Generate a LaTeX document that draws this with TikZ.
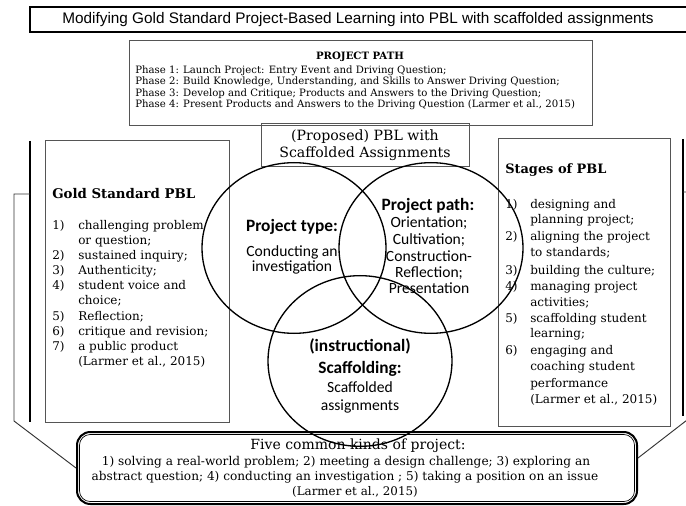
\documentclass[tikz,border=0pt]{standalone}
\usepackage{fontspec}
\setmainfont{DejaVu Serif}
\newfontfamily\headsans{Liberation Sans}
\newfontfamily\venn{Carlito}
\usetikzlibrary{shapes.geometric,fit,calc}
\definecolor{edge}{HTML}{555555}
\begin{document}
\begin{tikzpicture}[x=0.75pt,y=-0.75pt,
  frame/.style={draw=edge, line width=0.75pt, inner sep=0pt},
  txt/.style={inner sep=0pt, text height=0.7em, text depth=0.2em},
  lst/.style={txt, anchor=west, font=\fontsize{9}{11}\selectfont},
  phase/.style={txt, anchor=west, font=\fontsize{7.6}{9}\selectfont},
  vhead/.style={txt, font=\venn\bfseries\fontsize{13}{15}\selectfont},
  vbody/.style={txt, font=\venn\fontsize{11.7}{14}\selectfont},
  kindtxt/.style={txt, font=\fontsize{9.1}{11}\selectfont},
  set/.style={ellipse, draw, line width=1pt, inner sep=0pt,
    minimum width=138pt, minimum height=128pt},
  bar/.style={line width=1.6pt},
  link/.style={draw=black!80, line width=0.7pt},
]
\useasboundingbox (0,0) rectangle (686,506);

% heading
\node (titlebox) [frame, fit={(30,7) (694,32)}, draw=black, line width=1.2pt] {};
\node (title) [txt, font=\headsans\fontsize{11.5}{13}\selectfont] at (358,20)
  {Modifying Gold Standard Project-Based Learning into PBL with scaffolded assignments};

% project path
\node (pathbox) [frame, fit={(129,41) (592,126)}] {};
\node (pathhead) [txt, font=\bfseries\fontsize{7.6}{9}\selectfont] at (360,56) {PROJECT PATH};
\node (ph1) [phase] at (135,70) {Phase 1: Launch Project: Entry Event and Driving Question;};
\node (ph2) [phase] at (135,81.5) {Phase 2: Build Knowledge, Understanding, and Skills to Answer Driving Question;};
\node (ph3) [phase] at (135,93) {Phase 3: Develop and Critique; Products and Answers to the Driving Question;};
\node (ph4) [phase] at (135,104.5) {Phase 4: Present Products and Answers to the Driving Question (Larmer et al., 2015)};

% proposed model
\node (propbox) [frame, fit={(261,124) (469,167)}] {};
\node (prop1) [txt, font=\fontsize{10.6}{12}\selectfont] at (365,137) {(Proposed) PBL with};
\node (prop2) [txt, font=\fontsize{10.6}{12}\selectfont] at (365,154) {Scaffolded Assignments};

% gold standard
\node (goldbox) [frame, fit={(45,141) (229,422)}] {};
\node (goldhead) [txt, anchor=west, font=\bfseries\fontsize{10}{12}\selectfont] at (52,195) {Gold Standard PBL};
\foreach \y/\t [count=\i] in {226/challenging problem, 241/or question;, 256/sustained inquiry;,
    271/Authenticity;, 286.5/student voice and, 301.5/choice;, 317/Reflection;,
    332/critique and revision;, 347/a public product, 362/{(Larmer et al., 2015)}}
  \node (gold\i) [lst] at (78,\y) {\t};
\foreach \y/\k in {226/1, 256/2, 271/3, 286.5/4, 317/5, 332/6, 347/7}
  \node (goldn\k) [lst] at (52,\y) {\k)};

% stages
\node (stagebox) [frame, fit={(498,139) (670,426)}] {};
\node (stagehead) [txt, anchor=west, font=\bfseries\fontsize{9.7}{12}\selectfont] at (505,170) {Stages of PBL};
\foreach \y/\t [count=\i] in {205/designing and, 220/planning project;, 237/aligning the project,
    253/to standards;, 271/building the culture;, 287/managing project, 303/activities;,
    319/scaffolding student, 334/learning;, 351/engaging and, 367/coaching student,
    384/performance, 400/{(Larmer et al., 2015)}}
  \node (stage\i) [lst] at (530,\y) {\t};
\foreach \y/\k in {205/1, 237/2, 271/3, 287/4, 319/5, 351/6}
  \node (stagen\k) [lst] at (505,\y) {\k)};

% five kinds of project
\node (kinds) [fit={(77,432) (637,504)}, inner sep=0pt, draw, line width=1.5pt, rounded corners=10pt] {};
\draw[line width=0.5pt, rounded corners=8pt]
  ($(kinds.north west)+(3.5,3.5)$) rectangle ($(kinds.south east)+(-3.5,-3.5)$);
\node (kindhead) [txt, font=\fontsize{10.5}{12}\selectfont] at (358,446) {Five common kinds of project:};
\node (kind1) [kindtxt] at (346,462) {1) solving a real-world problem; 2) meeting a design challenge; 3) exploring an};
\node (kind2) [kindtxt] at (345,477) {abstract question; 4) conducting an investigation ; 5) taking a position on an issue};
\node (kind3) [txt, font=\fontsize{8.9}{10}\selectfont] at (355,492) {(Larmer et al., 2015)};

% venn texts
\node (typehead) [vhead] at (292,228) {Project type:};
\node (type1) [vbody] at (292,253) {Conducting an};
\node (type2) [vbody] at (292,268) {investigation};
\node (pathvhead) [vhead] at (428,207) {Project path:};
\node (pv1) [vbody] at (429,224) {Orientation;};
\node (pv2) [vbody] at (429,241) {Cultivation;};
\node (pv3) [vbody] at (429,258) {Construction-};
\node (pv4) [vbody] at (429,274) {Reflection;};
\node (pv5) [vbody] at (429,290) {Presentation};
\node (scafhead1) [vhead] at (360,348) {(instructional)};
\node (scafhead2) [vhead] at (360,370) {Scaffolding:};
\node (scaf1) [vbody] at (360,389) {Scaffolded};
\node (scaf2) [vbody] at (360,407) {assignments};

% venn sets
\node (typeset) [set] at (294,248) {};
\node (pathset) [set] at (431,248) {};
\node (scafset) [set] at (360,361) {};

% side bars and their links to the bottom box
\coordinate (lt) at (30,141);
\coordinate (lb) at (30,422);
\draw[bar] (lt) -- (lb);
\coordinate (lj) at (30,194);
\coordinate (lk) at (14,194);
\coordinate (lm) at (14,421);
\draw[link] (lj) -- (lk) -- (lm) -- (kinds.west);

\coordinate (rt) at (683,139);
\coordinate (rb) at (683,416);
\draw[bar] (rt) -- (rb);
\coordinate (rj) at (683,192);
\coordinate (rk) at (700,192);
\coordinate (rm) at (700,410);
\draw[link] (rj) -- (rk) -- (rm) -- ($(kinds.east)+(0,-10)$);
\end{tikzpicture}
\end{document}
